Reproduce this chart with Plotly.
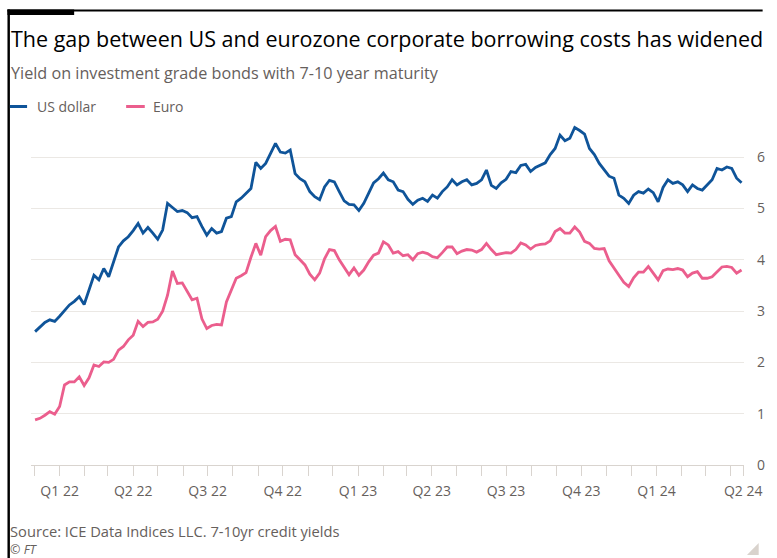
import pandas as pd
import plotly.graph_objects as go

start_date = "2021-12-02"
usd_yield = [
    2.60, 2.70, 2.78, 2.83, 2.80, 2.90, 3.02, 3.12, 3.19, 3.28,
    3.13, 3.41, 3.70, 3.61, 3.83, 3.67, 3.98, 4.25, 4.37, 4.45,
    4.57, 4.71, 4.52, 4.63, 4.52, 4.40, 4.58, 5.10, 5.02, 4.94,
    4.96, 4.92, 4.82, 4.84, 4.65, 4.48, 4.61, 4.52, 4.55, 4.81,
    4.84, 5.13, 5.20, 5.30, 5.39, 5.90, 5.78, 5.88, 6.08, 6.27,
    6.10, 6.08, 6.14, 5.68, 5.58, 5.52, 5.33, 5.23, 5.17, 5.42,
    5.55, 5.52, 5.33, 5.15, 5.08, 5.07, 4.96, 5.10, 5.30, 5.50,
    5.58, 5.69, 5.56, 5.52, 5.36, 5.33, 5.18, 5.08, 5.16, 5.20,
    5.14, 5.26, 5.20, 5.33, 5.42, 5.56, 5.46, 5.52, 5.56, 5.46,
    5.49, 5.56, 5.75, 5.45, 5.39, 5.50, 5.57, 5.72, 5.70, 5.84,
    5.86, 5.72, 5.80, 5.85, 5.89, 6.05, 6.17, 6.43, 6.32, 6.37,
    6.58, 6.52, 6.45, 6.17, 6.05, 5.88, 5.76, 5.63, 5.59, 5.26,
    5.20, 5.10, 5.26, 5.33, 5.30, 5.38, 5.31, 5.13, 5.41, 5.56,
    5.49, 5.52, 5.46, 5.33, 5.46, 5.39, 5.36, 5.46, 5.56, 5.78,
    5.75, 5.81, 5.78, 5.59, 5.50,
]
eur_yield = [
    0.88, 0.91, 0.97, 1.04, 0.99, 1.14, 1.56, 1.62, 1.62, 1.72,
    1.55, 1.70, 1.95, 1.92, 2.01, 2.00, 2.06, 2.24, 2.31, 2.44,
    2.53, 2.80, 2.70, 2.78, 2.79, 2.84, 3.00, 3.31, 3.78, 3.54,
    3.55, 3.38, 3.22, 3.25, 2.85, 2.66, 2.72, 2.74, 2.73, 3.18,
    3.43, 3.64, 3.69, 3.75, 4.05, 4.32, 4.09, 4.45, 4.57, 4.65,
    4.36, 4.40, 4.39, 4.10, 4.00, 3.90, 3.72, 3.61, 3.74, 4.02,
    4.20, 4.18, 4.00, 3.85, 3.71, 3.84, 3.70, 3.80, 3.96, 4.09,
    4.13, 4.35, 4.29, 4.13, 4.16, 4.08, 4.10, 4.00, 4.12, 4.15,
    4.12, 4.06, 4.04, 4.14, 4.25, 4.25, 4.12, 4.17, 4.20, 4.19,
    4.15, 4.20, 4.32, 4.20, 4.10, 4.12, 4.14, 4.13, 4.20, 4.33,
    4.29, 4.21, 4.28, 4.30, 4.31, 4.37, 4.55, 4.61, 4.52, 4.52,
    4.64, 4.54, 4.36, 4.32, 4.22, 4.21, 4.22, 3.98, 3.85, 3.70,
    3.56, 3.48, 3.65, 3.76, 3.76, 3.87, 3.74, 3.61, 3.79, 3.82,
    3.81, 3.83, 3.80, 3.67, 3.74, 3.77, 3.64, 3.64, 3.67, 3.77,
    3.86, 3.87, 3.85, 3.74, 3.80,
]
dates = pd.date_range(start_date, periods=len(usd_yield), freq="6D")

quarter_ticks = ["2022-01-01", "2022-04-01", "2022-07-01", "2022-10-01",
                 "2023-01-01", "2023-04-01", "2023-07-01", "2023-10-01",
                 "2024-01-01", "2024-04-16"]
quarter_labels = ["Q1 22", "Q2 22", "Q3 22", "Q4 22", "Q1 23", "Q2 23",
                  "Q3 23", "Q4 23", "Q1 24", "Q2 24"]
y_ticks = [0, 1, 2, 3, 4, 5, 6]

series_names = ["US dollar", "Euro"]
series_colors = ["#0f5499", "#eb5e8d"]

# ---- layout geometry (pixels) ----
W, H = 777, 558
L, R, T, B = 31, 758, 121, 465
PW, PH = R - L, B - T


def px(x):
    return (x - L) / PW


def py(y):
    return (B - y) / PH


FONT = "Open Sans"
GREY = "#66605c"

fig = go.Figure()
for name, vals, col in zip(series_names, [usd_yield, eur_yield], series_colors):
    fig.add_trace(go.Scatter(x=dates, y=vals, mode="lines", name=name,
                             line=dict(color=col, width=2.8), showlegend=False))

shapes = [
    dict(type="rect", xref="paper", yref="paper", x0=px(7), x1=px(777),
         y0=py(11.5), y1=py(9.5), fillcolor="black", line=dict(width=0), layer="above"),
    dict(type="rect", xref="paper", yref="paper", x0=px(7), x1=px(75),
         y0=py(15), y1=py(9.5), fillcolor="black", line=dict(width=0), layer="above"),
    dict(type="rect", xref="paper", yref="paper", x0=px(7), x1=px(9.5),
         y0=py(558), y1=py(9.5), fillcolor="black", line=dict(width=0), layer="above"),
    dict(type="path", xref="paper", yref="paper",
         path=f"M {px(773)} {py(543)} L {px(773)} {py(555)} L {px(761)} {py(555)} Z",
         fillcolor="#d9d3cd", line=dict(width=0)),
]
# legend keys
for x0, x1, col in [(9.5, 27, series_colors[0]), (128, 147, series_colors[1])]:
    shapes.append(dict(type="line", xref="paper", yref="paper", x0=px(x0), x1=px(x1),
                       y0=py(106.5), y1=py(106.5), line=dict(color=col, width=3)))

annotations = [
    dict(text="The gap between US and eurozone corporate borrowing costs has widened",
         x=px(9), y=py(38), xref="paper", yref="paper", xanchor="left", yanchor="middle",
         showarrow=False, font=dict(family=FONT, size=21.5, color="#000000")),
    dict(text="Yield on investment grade bonds with 7-10 year maturity",
         x=px(9), y=py(72.5), xref="paper", yref="paper", xanchor="left", yanchor="middle",
         showarrow=False, font=dict(family=FONT, size=16.2, color=GREY)),
    dict(text=series_names[0], x=px(35), y=py(107), xref="paper", yref="paper",
         xanchor="left", yanchor="middle", showarrow=False,
         font=dict(family=FONT, size=14, color=GREY)),
    dict(text=series_names[1], x=px(153), y=py(107), xref="paper", yref="paper",
         xanchor="left", yanchor="middle", showarrow=False,
         font=dict(family=FONT, size=14, color=GREY)),
    dict(text="Source: ICE Data Indices LLC. 7-10yr credit yields",
         x=px(9), y=py(530.5), xref="paper", yref="paper", xanchor="left", yanchor="middle",
         showarrow=False, font=dict(family=FONT, size=14.7, color=GREY), borderpad=0),
    dict(text="<i>© FT</i>",
         x=px(9), y=py(549.3), xref="paper", yref="paper", xanchor="left", yanchor="middle",
         showarrow=False, font=dict(family=FONT, size=12.5, color=GREY), borderpad=0),
]

fig.update_layout(
    width=W, height=H,
    margin=dict(l=L, r=W - R, t=T, b=H - B, pad=0),
    paper_bgcolor="white", plot_bgcolor="white",
    shapes=shapes, annotations=annotations,
    font=dict(family=FONT, color=GREY),
    hovermode=False,
)
fig.update_xaxes(
    type="date", range=["2021-11-27", "2024-04-17"],
    tickvals=quarter_ticks, ticktext=quarter_labels,
    ticks="outside", ticklen=10, tickcolor="#d9d4cf", tickwidth=1,
    tickfont=dict(family=FONT, size=14, color=GREY),
    ticklabelstandoff=3,
    showgrid=False, showline=True, linecolor="#d9d4cf", linewidth=1,
    minor=dict(ticks="outside", ticklen=10, tickcolor="#d9d4cf", dtick="M1",
               tick0="2021-12-01", showgrid=False),
)
fig.update_yaxes(
    range=[0, PH / 51.3], side="right", tickvals=y_ticks,
    showgrid=True, gridcolor="#ebe8e4", gridwidth=1, zeroline=False,
    ticks="", tickfont=dict(family=FONT, size=14, color=GREY),
    ticklabelstandoff=12,
)

fig.write_html("out.html")
